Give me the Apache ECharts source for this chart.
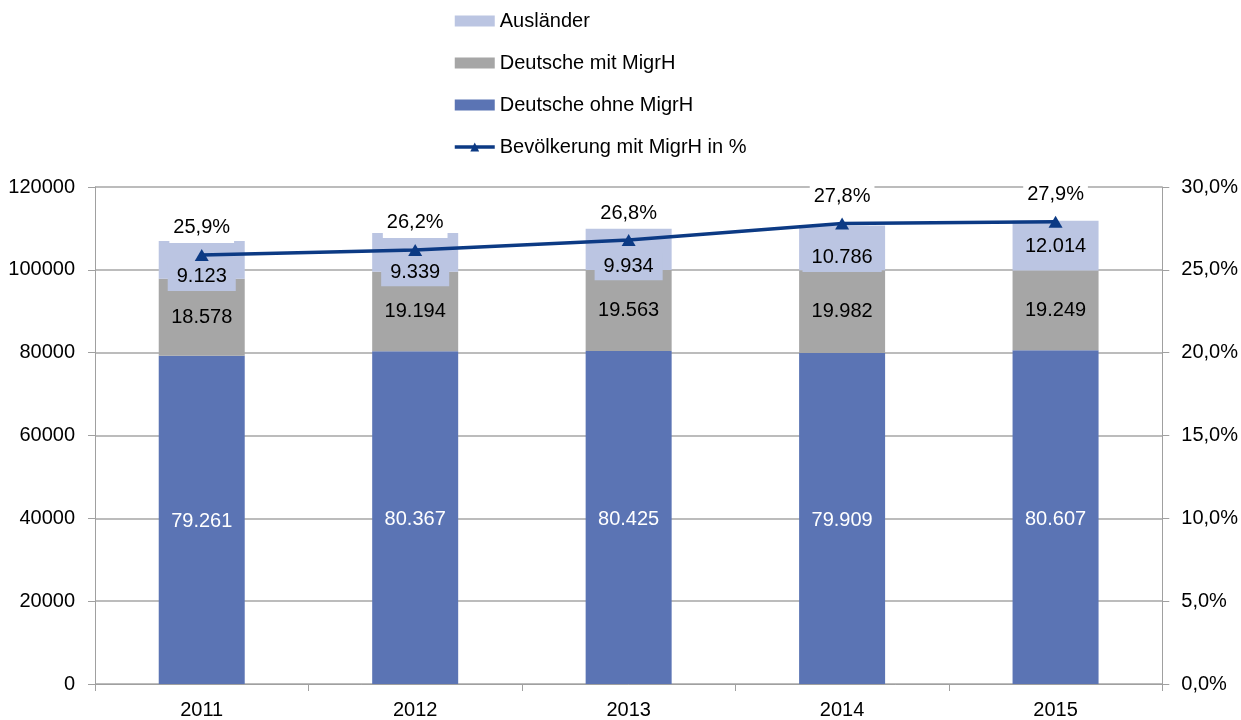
<!DOCTYPE html>
<html>
<head>
<meta charset="utf-8">
<script src="https://cdn.jsdelivr.net/npm/echarts@6/dist/echarts.min.js"></script>
<style>html,body{margin:0;padding:0;background:#fff}#c{width:1241px;height:720px}</style>
</head>
<body>
<div id="c"></div>
<script>
var years = ['2011', '2012', '2013', '2014', '2015'];
var deutscheOhne = [79261, 80367, 80425, 79909, 80607];
var deutscheMit = [18578, 19194, 19563, 19982, 19249];
var auslaender = [9123, 9339, 9934, 10786, 12014];
var migrAnteil = [25.9, 26.2, 26.8, 27.8, 27.9];

// label layout tweak (Excel nudged these labels below the line)
var auslLabelShift = [17, 20, 17, 10, 1];

var FONT = '"Liberation Sans", Arial, Helvetica, sans-serif';
var FS = 20;
function thousands(v) { return String(v).replace(/\B(?=(\d{3})+(?!\d))/g, '.'); }
function pct(v) { return v.toFixed(1).replace('.', ',') + '%'; }

var chart = echarts.init(document.getElementById('c'));
chart.setOption({
  animation: false,
  textStyle: { fontFamily: FONT },
  legend: {
    orient: 'vertical',
    left: 448,
    top: 6,
    itemWidth: 40,
    itemHeight: 11,
    itemGap: 22,
    textStyle: { fontSize: FS, color: '#000', fontFamily: FONT, lineHeight: 20 },
    data: [
      { name: 'Ausländer', icon: 'rect' },
      { name: 'Deutsche mit MigrH', icon: 'rect' },
      { name: 'Deutsche ohne MigrH', icon: 'rect' },
      { name: 'Bevölkerung mit MigrH in %', lineStyle: { width: 3.5 } }
    ]
  },
  grid: { left: 95, right: 78, top: 187, bottom: 35, containLabel: false },
  xAxis: {
    type: 'category',
    data: years,
    axisLine: { lineStyle: { color: '#a0a0a0', width: 1 } },
    axisTick: { show: true, length: 7, lineStyle: { color: '#a0a0a0' } },
    axisLabel: { color: '#000', fontSize: FS, margin: 16, fontFamily: FONT }
  },
  yAxis: [
    {
      type: 'value', min: 0, max: 120000, interval: 20000,
      axisLine: { show: true, lineStyle: { color: '#a0a0a0', width: 1 } },
      axisTick: { show: true, length: 7, lineStyle: { color: '#a0a0a0' } },
      axisLabel: { color: '#000', fontSize: FS, margin: 20, fontFamily: FONT,
        formatter: function (v) { return String(v); } },
      splitLine: { show: true, lineStyle: { color: '#a6a6a6', width: 1.5 } }
    },
    {
      type: 'value', min: 0, max: 30, interval: 5, position: 'right',
      axisLine: { show: true, lineStyle: { color: '#a0a0a0', width: 1 } },
      axisTick: { show: true, length: 7, lineStyle: { color: '#a0a0a0' } },
      axisLabel: { color: '#000', fontSize: FS, margin: 19, fontFamily: FONT, formatter: function (v) { return pct(v); } },
      splitLine: { show: false }
    }
  ],
  series: [
    {
      name: 'Deutsche ohne MigrH', type: 'bar', stack: 'pop', barWidth: 86,
      data: deutscheOhne,
      itemStyle: { color: '#5b74b4' },
      label: { show: true, position: 'inside', color: '#fff', fontSize: FS, fontFamily: FONT,
        offset: [0, 2],
        formatter: function (p) { return thousands(p.value); } }
    },
    {
      name: 'Deutsche mit MigrH', type: 'bar', stack: 'pop', barWidth: 86,
      data: deutscheMit,
      itemStyle: { color: '#a6a6a6' },
      label: { show: true, position: 'inside', color: '#000', fontSize: FS, fontFamily: FONT,
        formatter: function (p) { return thousands(p.value); } }
    },
    {
      name: 'Ausländer', type: 'bar', stack: 'pop', barWidth: 86,
      data: auslaender.map(function (v, i) {
        return { value: v, label: { offset: [0, auslLabelShift[i]] } };
      }),
      itemStyle: { color: '#bbc5e2' },
      label: { show: true, position: 'inside', color: '#000', fontSize: FS, fontFamily: FONT,
        backgroundColor: '#bbc5e2', padding: [4, 9],
        formatter: function (p) { return thousands(p.value); } }
    },
    {
      name: 'Bevölkerung mit MigrH in %', type: 'line', yAxisIndex: 1,
      data: migrAnteil,
      symbol: 'triangle', symbolSize: [14, 12],
      lineStyle: { color: '#0c3a84', width: 3.5 },
      itemStyle: { color: '#0c3a84' },
      z: 5,
      label: { show: true, position: 'top', distance: 6, color: '#000', fontSize: FS, fontFamily: FONT,
        backgroundColor: '#fff', padding: [5, 4],
        formatter: function (p) { return pct(p.value); } }
    }
  ]
});
</script>
</body>
</html>
